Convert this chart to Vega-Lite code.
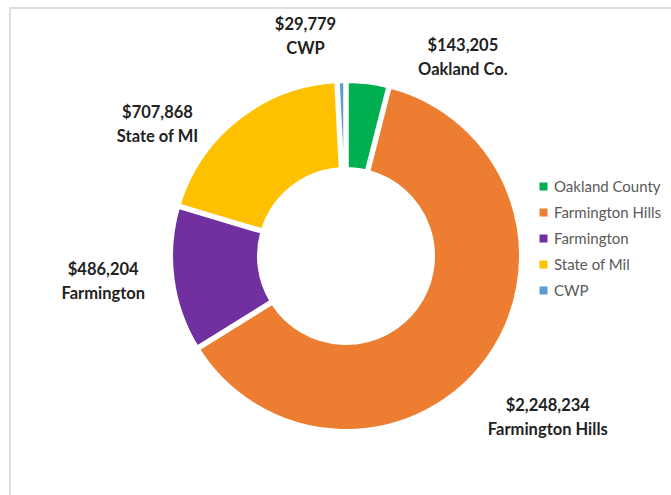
{
  "$schema": "https://vega.github.io/schema/vega-lite/v6.json",
  "autosize": "none",
  "width": 672,
  "height": 496,
  "padding": {"left": 10, "top": 8, "right": 0, "bottom": 0},
  "background": "white",
  "data": {
    "values": [
      {"name": "Oakland County", "label": "$143,205\nOakland Co.", "value": 143205, "idx": 1},
      {"name": "Farmington Hills", "label": "$2,248,234\nFarmington Hills", "value": 2248234, "idx": 2},
      {"name": "Farmington", "label": "$486,204\nFarmington", "value": 486204, "idx": 3},
      {"name": "State of Mil", "label": "$707,868\nState of MI", "value": 707868, "idx": 4},
      {"name": "CWP", "label": "$29,779\nCWP", "value": 29779, "idx": 5}
    ]
  },
  "layer": [
    {
      "mark": {"type": "rect", "fill": null, "stroke": "#dedede", "strokeWidth": 1.5},
      "encoding": {}
    },
    {
      "mark": {"type": "arc", "outerRadius": 174, "innerRadius": 88, "padAngle": 0.018, "stroke": "white", "strokeWidth": 2},
      "encoding": {
        "theta": {"field": "value", "type": "quantitative", "stack": true},
        "order": {"field": "idx", "type": "quantitative"},
        "color": {
          "field": "name",
          "type": "nominal",
          "scale": {
            "domain": ["Oakland County", "Farmington Hills", "Farmington", "State of Mil", "CWP"],
            "range": ["#00B050", "#ED7D31", "#7030A0", "#FFC000", "#5B9BD5"]
          },
          "legend": {
            "title": null,
            "orient": "none",
            "legendX": 526,
            "legendY": 171,
            "symbolType": "square",
            "symbolSize": 64,
            "symbolStrokeWidth": 0,
            "labelFont": "Lato",
            "labelFontSize": 15,
            "labelColor": "#595959",
            "rowPadding": 10,
            "labelOffset": 3
          }
        }
      }
    },
    {
      "mark": {"type": "text", "radius": 214, "dx": -35, "dy": -17, "lineBreak": "\n", "lineHeight": 24, "font": "Lato", "fontWeight": "bold", "fontSize": 16.5, "color": "#222222", "align": "center", "baseline": "middle"},
      "encoding": {
        "theta": {"field": "value", "type": "quantitative", "stack": true},
        "order": {"field": "idx", "type": "quantitative"},
        "text": {"condition": {"test": "datum.idx === 5", "field": "label"}, "value": ""}
      }
    },
    {
      "mark": {"type": "text", "radius": 200, "dx": 92, "dy": -12, "lineBreak": "\n", "lineHeight": 24, "font": "Lato", "fontWeight": "bold", "fontSize": 16.5, "color": "#222222", "align": "center", "baseline": "middle"},
      "encoding": {
        "theta": {"field": "value", "type": "quantitative", "stack": true},
        "order": {"field": "idx", "type": "quantitative"},
        "text": {"condition": {"test": "datum.idx === 1", "field": "label"}, "value": ""}
      }
    },
    {
      "mark": {"type": "text", "radius": 255, "dx": -4, "dy": -1, "lineBreak": "\n", "lineHeight": 24, "font": "Lato", "fontWeight": "bold", "fontSize": 16.5, "color": "#222222", "align": "center", "baseline": "middle"},
      "encoding": {
        "theta": {"field": "value", "type": "quantitative", "stack": true},
        "order": {"field": "idx", "type": "quantitative"},
        "text": {"condition": {"test": "datum.idx === 2", "field": "label"}, "value": ""}
      }
    },
    {
      "mark": {"type": "text", "radius": 248, "dx": 3, "dy": -19, "lineBreak": "\n", "lineHeight": 24, "font": "Lato", "fontWeight": "bold", "fontSize": 16.5, "color": "#222222", "align": "center", "baseline": "middle"},
      "encoding": {
        "theta": {"field": "value", "type": "quantitative", "stack": true},
        "order": {"field": "idx", "type": "quantitative"},
        "text": {"condition": {"test": "datum.idx === 3", "field": "label"}, "value": ""}
      }
    },
    {
      "mark": {"type": "text", "radius": 232, "dx": -45, "dy": 39, "lineBreak": "\n", "lineHeight": 24, "font": "Lato", "fontWeight": "bold", "fontSize": 16.5, "color": "#222222", "align": "center", "baseline": "middle"},
      "encoding": {
        "theta": {"field": "value", "type": "quantitative", "stack": true},
        "order": {"field": "idx", "type": "quantitative"},
        "text": {"condition": {"test": "datum.idx === 4", "field": "label"}, "value": ""}
      }
    }
  ]
}
